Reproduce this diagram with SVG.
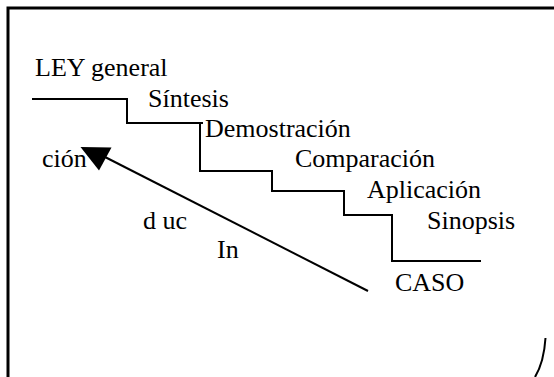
<svg xmlns="http://www.w3.org/2000/svg" width="554" height="377" viewBox="0 0 554 377">
<style>
.ln{fill:none;stroke:#000;stroke-width:2}
.fr{fill:none;stroke:#000;stroke-width:3}
</style>
<rect width="554" height="377" fill="#fff"/>
<g id="frame">
<path class="fr" d="M8,377 V8 H554"/>
<path class="ln" d="M545.5,338 Q544,362 535,377"/>
</g>
<g id="connectors">
<path id="stairs" class="ln" d="M32,99 H127 V123 H203 M200,123 V171 H272 V191 H344 V215 H392 V261 H481"/>
<line id="arrow-line" class="ln" x1="368" y1="291" x2="105" y2="157"/>
<polygon id="arrowhead" points="80.5,147 111.5,147.5 99,170.5" fill="#000"/>
</g>
<g font-family="Liberation Serif, serif" font-size="26" fill="#000">
<g id="ley"><text x="35" y="76">LEY general</text></g>
<g id="sintesis"><text x="148" y="107">Síntesis</text></g>
<g id="demostracion"><text x="205" y="137">Demostración</text></g>
<g id="comparacion"><text x="295" y="167">Comparación</text></g>
<g id="aplicacion"><text x="367" y="198">Aplicación</text></g>
<g id="sinopsis"><text x="427" y="229">Sinopsis</text></g>
<g id="caso"><text x="395" y="291">CASO</text></g>
<g id="induccion">
<text x="42" y="167">ción</text>
<text x="143" y="229">d uc</text>
<text x="217" y="258">In</text>
</g>
</g>
</svg>
